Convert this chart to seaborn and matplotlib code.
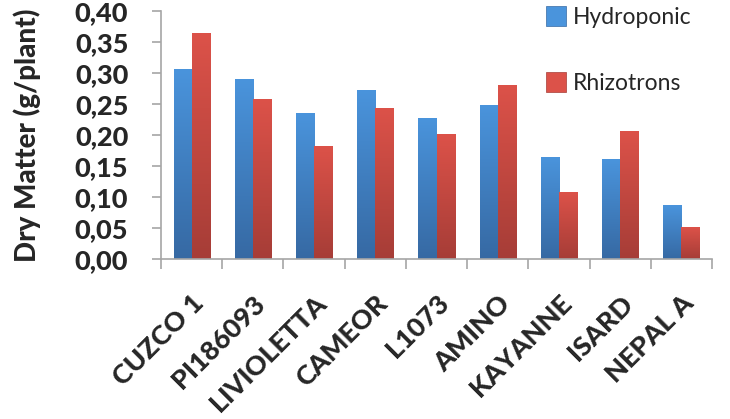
import matplotlib
matplotlib.use("Agg")
import matplotlib.pyplot as plt
from matplotlib.colors import LinearSegmentedColormap
from matplotlib.lines import Line2D
from matplotlib.ticker import FixedLocator, FuncFormatter
import seaborn as sns
import pandas as pd
import numpy as np

# Dry matter per plant
varieties = ['CUZCO 1', 'PI186093', 'LIVIOLETTA', 'CAMEOR', 'L1073',
             'AMINO', 'KAYANNE', 'ISARD', 'NEPAL A']
hydroponic = [0.305, 0.290, 0.235, 0.271, 0.226, 0.247, 0.163, 0.160, 0.087]
rhizotrons = [0.363, 0.258, 0.182, 0.242, 0.200, 0.279, 0.108, 0.205, 0.050]
systems = ['Hydroponic', 'Rhizotrons']

df = pd.DataFrame({
    'variety': varieties * 2,
    'system': [systems[0]] * len(varieties) + [systems[1]] * len(varieties),
    'dm': hydroponic + rhizotrons,
})

# (top, bottom) colours for the gradient fill
grad_cols = {'Hydroponic': ('#4a94dc', '#3669a3'),
             'Rhizotrons': ('#dc5249', '#a63d37')}

sns.set_style('white')
plt.rcParams['font.family'] = ['Lato', 'DejaVu Sans']
BOLD = 'black'

fig = plt.figure(figsize=(7.3, 4.19), dpi=100)
ax = fig.add_axes([0.2205, 0.382, 0.755, 0.592])

sns.barplot(data=df, x='variety', y='dm', hue='system', order=varieties,
            hue_order=systems, width=0.59, palette=[grad_cols[s][0] for s in systems],
            ax=ax, legend=False)

# gradient fill on each bar
grad = np.linspace(0, 1, 256).reshape(-1, 1)
for cont, s in zip(ax.containers, systems):
    cmap = LinearSegmentedColormap.from_list(s, [grad_cols[s][1], grad_cols[s][0]])
    for p in cont.patches:
        x0, y0, w, h = p.get_x(), p.get_y(), p.get_width(), p.get_height()
        ax.imshow(grad, extent=[x0, x0 + w, y0, y0 + h], origin='lower',
                  aspect='auto', cmap=cmap, zorder=2)
        p.set_visible(False)
ax.set_xlim(-0.5, len(varieties) - 0.5)
ax.set_ylim(0, 0.40)
ax.set_aspect('auto')

# axes styling
for side in ['top', 'right']:
    ax.spines[side].set_visible(False)
for side in ['left', 'bottom']:
    ax.spines[side].set_color('#a6a6a6')
    ax.spines[side].set_linewidth(1.2)

ax.set_yticks(np.arange(0, 0.401, 0.05))
ax.yaxis.set_major_formatter(FuncFormatter(lambda v, _: f'{v:.2f}'.replace('.', ',')))
ax.tick_params(axis='y', left=True, length=6.5, width=1.2, color='#a6a6a6',
               labelsize=19.5, pad=17)
for t in ax.get_yticklabels():
    t.set_fontweight(BOLD)

ax.xaxis.set_minor_locator(FixedLocator(np.arange(-0.5, len(varieties), 1.0)))
ax.tick_params(axis='x', which='minor', bottom=True, length=7, width=1.2, color='#a6a6a6')
ax.tick_params(axis='x', which='major', bottom=False, length=0, pad=23)
ax.set_xticks(range(len(varieties)))
ax.set_xticklabels(varieties, rotation=45, ha='right', rotation_mode='anchor',
                   fontsize=19.5, fontweight=BOLD)

ax.set_xlabel('')
ax.set_ylabel('Dry Matter (g/plant)', fontsize=20, fontweight=BOLD, labelpad=24)

handles = [Line2D([], [], marker='s', linestyle='none', markersize=14,
                  markerfacecolor=grad_cols[s][0], markeredgecolor=grad_cols[s][1],
                  markeredgewidth=0.5) for s in systems]
fig.legend(handles, systems, loc='upper left', bbox_to_anchor=(0.735, 1.005),
           frameon=False, fontsize=16.5, handlelength=0.9, handletextpad=0.3,
           labelspacing=1.95, borderaxespad=0.0)

fig.savefig('out.png', dpi=100)
